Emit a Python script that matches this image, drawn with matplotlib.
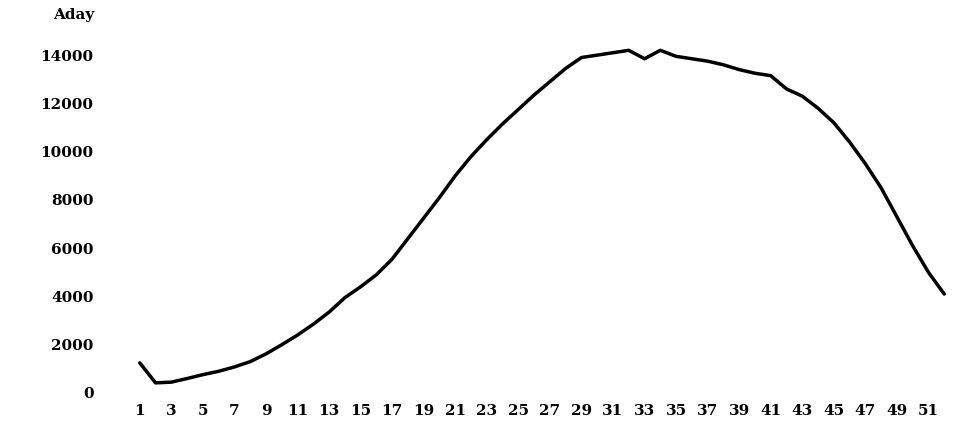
import numpy as np
import matplotlib.pyplot as plt

# weekly values
weeks = np.arange(1, 53)
aday = [1250, 420, 450, 600, 760, 900, 1080, 1300, 1620, 2000,
        2400, 2850, 3350, 3950, 4400, 4900, 5550, 6400, 7250, 8100,
        9000, 9800, 10500, 11150, 11750, 12350, 12900, 13450, 13900, 14000,
        14100, 14200, 13850, 14200, 13950, 13850, 13750, 13600, 13400, 13250,
        13150, 12600, 12300, 11800, 11200, 10400, 9500, 8500, 7300, 6100,
        5000, 4100]
xtick_labels = [str(w) for w in range(1, 52, 2)]
ytick_values = list(range(0, 14001, 2000))

fig = plt.figure(figsize=(9.63, 4.33), dpi=100)
W, H = 963, 433
ax = fig.add_axes([124 / W, 40 / H, (960 - 124) / W, 362 / H])

ax.plot(weeks, aday, color='black', linewidth=2.5, solid_capstyle='round',
        solid_joinstyle='round')

ax.set_xlim(0, 53)
ax.set_ylim(0, 15000)

ax.set_xticks(range(1, 52, 2))
ax.set_xticklabels(xtick_labels, fontsize=11, fontweight='bold',
                   family='DejaVu Serif')
ax.set_yticks(ytick_values)
ax.set_yticklabels([str(v) for v in ytick_values], fontsize=11,
                   fontweight='bold', family='DejaVu Serif')
ax.tick_params(axis='both', length=0)
ax.tick_params(axis='y', pad=22)
ax.tick_params(axis='x', pad=8)

for s in ax.spines.values():
    s.set_visible(False)

fig.text(74 / W, 1 - 15 / H, 'Aday', ha='center', va='center',
         fontsize=11, fontweight='bold', family='DejaVu Serif')

fig.savefig('out.png', dpi=100)
